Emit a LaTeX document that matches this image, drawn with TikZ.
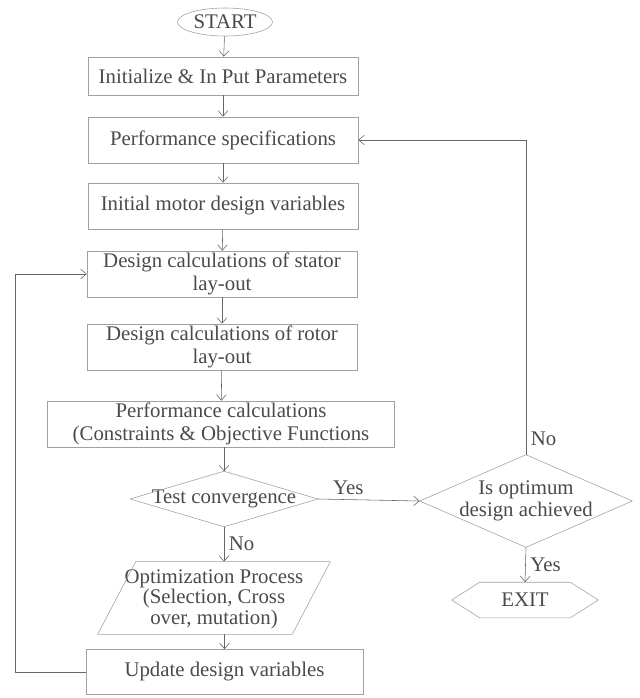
\documentclass[tikz,border=0pt]{standalone}
\usepackage{fontspec}
\setmainfont{Liberation Serif}
\usetikzlibrary{arrows.meta,calc,shapes.geometric}
\definecolor{ink}{HTML}{4A4A4A}
\definecolor{edge}{HTML}{A0A0A0}
\definecolor{wire}{HTML}{666666}

\begin{document}
\begin{tikzpicture}[x=0.025cm,y=-0.025cm,>={Straight Barb[length=1.4mm,width=2.4mm]},
  font=\fontsize{14.8}{16}\selectfont,text=ink,
  box/.style={draw=edge,rectangle,minimum width=6.75cm,minimum height=1.15cm,align=center,inner sep=1pt},
  flat/.style={rectangle,align=center,inner sep=0pt},
  shp/.style={draw=edge},
  line/.style={draw=wire,->}]
\useasboundingbox (0,0) rectangle (639,698);
% main column
\node[ellipse,draw=edge,minimum width=2.375cm,minimum height=0.7cm,inner sep=0pt] (start) at (225,22) {START};
\node[box,minimum height=0.95cm] (init) at (223,76) {Initialize \& In Put Parameters};
\node[box] (spec) at (223,140) {Performance specifications};
\node[box] (mvar) at (223,206) {Initial motor design variables};
\node[box] (stat) at (222,274) {Design calculations of stator\\lay-out};
\node[box] (rot) at (222,347) {Design calculations of rotor\\lay-out};
\node[box,minimum width=8.675cm] (perf) at (221,424) {Performance calculations\\(Constraints \& Objective Functions};
\node[flat,minimum width=4.675cm,minimum height=1.375cm] (test) at (224,499) {Test convergence};
\draw[shp] (test.west) -- (test.north) -- (test.east) -- (test.south) -- cycle;
\node[flat,minimum width=4.85cm,minimum height=1.75cm,font=\fontsize{14.8}{14.5}\selectfont] (ga) at (214,599) {Optimization Process\\(Selection, Cross\\over, mutation)};
\draw[shp] ($(ga.north west)+(19,-2)$) -- ($(ga.north east)+(19,-2)$) -- ($(ga.south east)+(-19,0)$) -- ($(ga.south west)+(-19,0)$) -- cycle;
\node[box,minimum width=6.925cm,minimum height=1.125cm] (upd) at (224.5,672) {Update design variables};
% right column
\node[flat,minimum width=5.3cm,minimum height=2.3cm] (best) at (526,501) {Is optimum\\design achieved};
\draw[shp] (best.west) -- (best.north) -- (best.east) -- (best.south) -- cycle;
\node[flat,minimum width=3.65cm,minimum height=0.875cm] (exit) at (525,600) {EXIT};
\draw[shp] (exit.west) -- ($(exit.north west)+(28,0)$) -- ($(exit.north east)+(-28,0)$) -- (exit.east) -- ($(exit.south east)+(-28,0)$) -- ($(exit.south west)+(28,0)$) -- cycle;
% connectors
\draw[line] (start) -- (init);
\draw[line] (init) -- (spec);
\draw[line] (spec) -- (mvar);
\draw[line] (mvar) -- (stat);
\draw[line] (stat) -- (rot);
\draw[line] (rot) -- (perf);
\draw[line] (test.north |- perf.south) -- (test.north);
\draw[line] (test.south) -- node[right] (no1) {No} ($(test.south |- ga.north)+(0,-2)$);
\draw[line] (ga.south -| upd.north) -- (upd.north);
\coordinate (lp) at (15,672);
\draw[line] (upd.west) -- (lp) |- (stat.west);
\draw[line] (test.east) -- node[pos=0.3,above] (yes1) {Yes} (best.west);
\draw[line] (best.north) -- node[pos=0.05,right] (no2) {No} (best.north |- spec.east) -- (spec.east);
\draw[line] (best.south) -- node[right] (yes2) {Yes} (exit.north);
\end{tikzpicture}
\end{document}
